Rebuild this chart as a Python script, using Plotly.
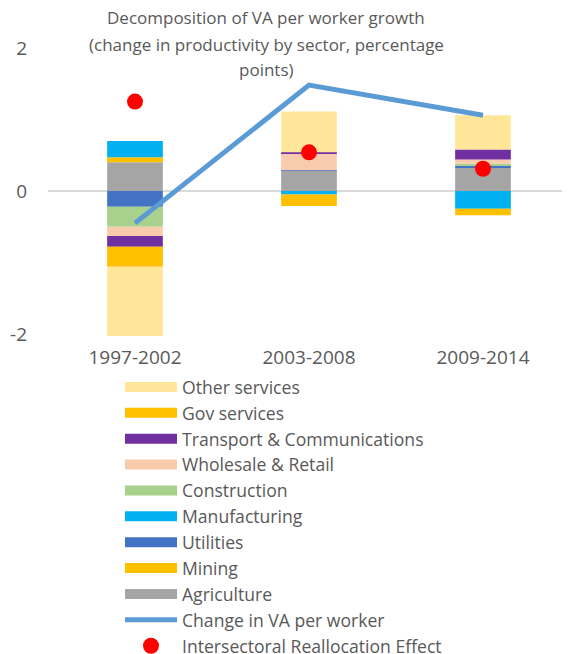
import plotly.graph_objects as go

periods = ['1997-2002', '2003-2008', '2009-2014']

# sector contributions, percentage points (stack order = Excel series order)
sectors = ['Agriculture', 'Mining', 'Utilities', 'Manufacturing', 'Construction',
           'Wholesale & Retail', 'Transport & Communications', 'Gov services', 'Other services']
agriculture = [0.40, 0.28, 0.32]
mining = [0.07, 0.0, 0.0]
utilities = [-0.22, 0.01, 0.03]
manufacturing = [0.23, -0.05, -0.25]
construction = [-0.28, 0.0, 0.03]
wholesale = [-0.13, 0.23, 0.06]
transport = [-0.15, 0.02, 0.14]
gov_services = [-0.28, -0.16, -0.09]
other_services = [-0.97, 0.57, 0.48]

va_change = [-0.45, 1.48, 1.06]
realloc = [1.25, 0.54, 0.31]

colors = ['#A5A5A5', '#FFC000', '#4472C4', '#00B0F0', '#A9D18E',
          '#F8CBAD', '#7030A0', '#FFC000', '#FFE699']
values = [agriculture, mining, utilities, manufacturing, construction,
          wholesale, transport, gov_services, other_services]

title_lines = ['Decomposition of VA per worker growth',
               '(change in productivity by sector, percentage',
               'points)']

font = 'Open Sans'
grey = '#595959'
H = 654
off = 8  # page body margin
plot_top, plot_bot = 48 - off, 336 - off

fig = go.Figure()

# stacked bars (legend entries are drawn by dummy traces below so the keys are wide)
for name, vals, col in zip(sectors, values, colors):
    fig.add_trace(go.Bar(x=periods, y=vals, name=name, marker=dict(color=col, line=dict(width=0)),
                         showlegend=False))

# legend keys, top to bottom like Excel
for rank, (name, col) in enumerate(zip(sectors[::-1], colors[::-1])):
    fig.add_trace(go.Scatter(x=[None], y=[None], mode='lines', name=name,
                             line=dict(color=col, width=12), legendrank=rank + 1,
                             legendgroup=name))

fig.add_trace(go.Scatter(x=periods, y=va_change, mode='lines', name='Change in VA per worker',
                         line=dict(color='#5B9BD5', width=5), legendrank=20,
                         legendgroup='line'))
fig.add_trace(go.Scatter(x=periods, y=realloc, mode='markers', name='Intersectoral Reallocation Effect',
                         marker=dict(color='#FF0000', size=16), legendrank=21,
                         legendgroup='dot'))

# title: one annotation per line to match Excel's line spacing
title_y = [18 - off, 45 - off, 70 - off]
annotations = []
for txt, ypx in zip(title_lines, title_y):
    annotations.append(dict(text=txt, xref='paper', yref='paper',
                            x=(266 - 48) / 522, y=(plot_bot - ypx) / (plot_bot - plot_top),
                            xanchor='center', yanchor='middle', showarrow=False,
                            font=dict(family=font, size=17, color=grey)))

fig.update_layout(
    width=570, height=H,
    margin=dict(l=48 - off, r=off, t=plot_top, b=H - plot_bot, autoexpand=False),
    barmode='relative', bargap=0.68,
    plot_bgcolor='white', paper_bgcolor='white',
    font=dict(family=font, size=17, color=grey),
    showlegend=True,
    legend=dict(xref='container', yref='container', x=112 / 570, xanchor='left',
                y=1 - 361 / H, yanchor='top',
                font=dict(family=font, size=17.6, color=grey),
                itemwidth=52, tracegroupgap=0, traceorder='grouped',
                bgcolor='rgba(0,0,0,0)'),
    annotations=annotations,
)
fig.update_xaxes(showline=False, ticks='', showgrid=False, tickfont=dict(size=19),
                 ticklabelstandoff=8)
fig.update_yaxes(range=[-2.03, 2.0], tickvals=[-2, 0, 2], ticktext=['-2', '0', '2'],
                 showgrid=False, showline=False, layer='above traces',
                 zeroline=True, zerolinecolor='#D9D9D9', zerolinewidth=2,
                 ticklabelstandoff=20, tickfont=dict(size=19))

fig.write_html('out.html')
